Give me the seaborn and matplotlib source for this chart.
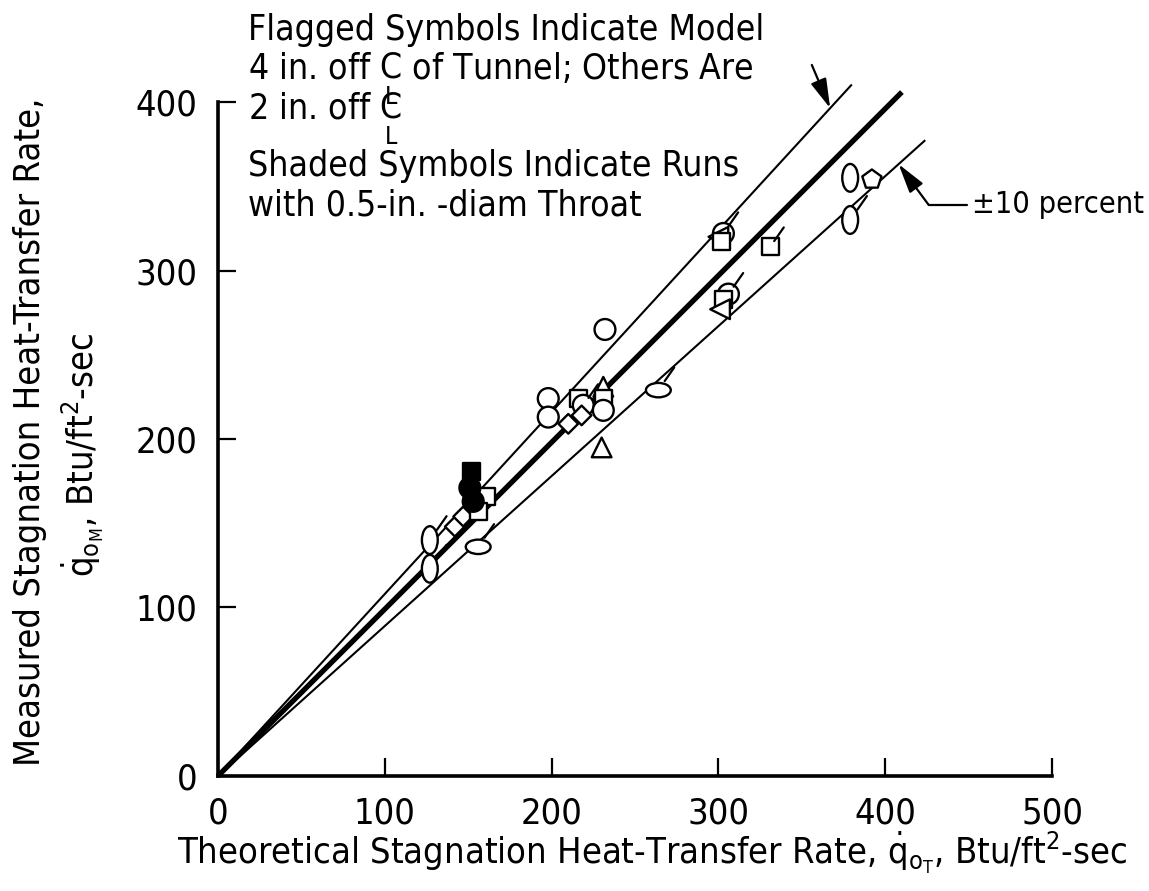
import numpy as np
import pandas as pd
import matplotlib
matplotlib.use("Agg")
import matplotlib.pyplot as plt
from matplotlib.path import Path
import seaborn as sns

# theoretical vs measured stagnation heat-transfer rate (Btu/ft^2-sec)
open_x = [127, 127, 142, 147, 161, 156, 156, 198, 198, 210, 216, 219, 218, 231, 231, 231, 230, 232, 264,
          303, 300, 302, 306, 303, 301, 331, 379, 392, 379]
open_y = [140, 123, 148, 154, 166, 157, 136, 224, 213, 209, 224, 220, 214, 231, 224, 217, 195, 265, 229,
          322, 320, 317, 286, 283, 277, 314, 355, 354, 330]
open_sym = ["vell", "vell", "diamond", "diamond", "square", "square", "hell", "circle", "circle", "diamond",
            "square", "circle", "diamond", "triangle", "square", "circle", "triangle", "circle", "hell",
            "circle", "ltri", "square", "circle", "square", "ltri", "square", "vell", "pent", "vell"]
open_flag = [1, 1, 0, 0, 0, 0, 1, 0, 0, 0, 0, 1, 0, 0, 0, 0, 0, 0, 1,
             1, 0, 0, 1, 0, 0, 1, 0, 0, 1]

# shaded symbols: 0.5-in.-diam throat
shaded_x = [152, 151, 153]
shaded_y = [181, 171, 163]
shaded_sym = ["square", "circle", "circle"]

# faired line and +-10 percent band
band_factor = [0.99, 1.08, 0.89]
band_end = [410, 380, 424]
band_lw = [3.8, 1.5, 1.5]

x_ticks = [0, 100, 200, 300, 400, 500]
y_ticks = [0, 100, 200, 300, 400]


def ellipse(sx, sy):
    c = Path.unit_circle()
    return Path(c.vertices * [sx, sy], c.codes)


markers = {"circle": "o", "square": "s", "triangle": "^", "ltri": "<", "diamond": "D",
           "pent": "p", "vell": ellipse(0.57, 1.0), "hell": ellipse(1.0, 0.58)}
sizes = {"circle": 225, "square": 150, "triangle": 200, "ltri": 200, "diamond": 100,
         "pent": 210, "vell": 400, "hell": 320}

sns.set_style("ticks")
plt.rcParams["font.family"] = ["DejaVu Sans"]
plt.rcParams["font.stretch"] = "condensed"
plt.rcParams["mathtext.fontset"] = "dejavusans"
for k in ["text.color", "axes.labelcolor", "xtick.color", "ytick.color"]:
    plt.rcParams[k] = "black"
FS = 26
NS = 25.5

fig = plt.figure(figsize=(11.49, 8.91), dpi=100)
ax = fig.add_axes([0.1897, 0.1291, 0.7259, 0.7564])

# lines
for f, xe, lw in zip(band_factor, band_end, band_lw):
    ax.plot([0, xe], [0, f * xe], color="black", lw=lw, clip_on=False, solid_capstyle="butt", zorder=2)

df_open = pd.DataFrame({"x": open_x, "y": open_y, "symbol": open_sym, "flag": open_flag})
df_shaded = pd.DataFrame({"x": shaded_x, "y": shaded_y, "symbol": shaded_sym})

sns.scatterplot(data=df_open, x="x", y="y", style="symbol", markers=markers, size="symbol", sizes=sizes,
                color="black", facecolor="white", edgecolor="black", linewidth=1.7, legend=False,
                ax=ax, zorder=3, clip_on=False)
sns.scatterplot(data=df_shaded, x="x", y="y", style="symbol", markers=markers, size="symbol", sizes=sizes,
                color="black", facecolor="black", edgecolor="black", linewidth=1.7, legend=False,
                ax=ax, zorder=4)

# flags on symbols for model 4 in. off centerline
ang = np.deg2rad(55)
for _, r in df_open[df_open.flag == 1].iterrows():
    rad = np.sqrt(sizes[r.symbol]) / 2
    L = rad + 11
    ax.annotate("", xy=(r.x, r.y), xytext=(L * np.cos(ang), L * np.sin(ang)), textcoords="offset points",
                arrowprops=dict(arrowstyle="-", lw=1.6, color="black", shrinkA=0, shrinkB=rad - 1),
                zorder=3)

# leaders to the band
ax.annotate("", xy=(367, band_factor[1] * 367), xytext=(356, 422), annotation_clip=False,
            arrowprops=dict(arrowstyle="-|>,head_length=0.9,head_width=0.25", lw=1.6, color="black",
                            shrinkA=0, shrinkB=0, mutation_scale=20))
ax.annotate("", xy=(408, band_factor[2] * 408), xytext=(426, 339), annotation_clip=False,
            arrowprops=dict(arrowstyle="-|>,head_length=0.9,head_width=0.25", lw=1.6, color="black",
                            shrinkA=0, shrinkB=0, mutation_scale=20))
ax.plot([426, 449], [339, 339], color="black", lw=1.6, clip_on=False)
ax.text(452, 339, "\u00b110 percent", fontsize=22, va="center", ha="left")

ax.set_xlim(0, 500)
ax.set_ylim(0, 400)
ax.set_xticks(x_ticks)
ax.set_yticks(y_ticks)
ax.tick_params(direction="in", length=13, width=1.6, labelsize=FS, pad=15, colors="black")
ax.tick_params(axis="x", pad=15)
sns.despine(ax=ax)
for s in ["left", "bottom"]:
    ax.spines[s].set_linewidth(2.6)
    ax.spines[s].set_color("black")

ax.set_ylabel("")
ax.set_xlabel(r"Theoretical Stagnation Heat-Transfer Rate, $\dot{\mathrm{q}}_{\mathrm{o}_\mathrm{T}}$, Btu/ft$^2$-sec",
              fontsize=FS)
ax.xaxis.set_label_coords(0.52, -0.08)
fig.text(0.026, 0.515, "Measured Stagnation Heat-Transfer Rate,", rotation=90, fontsize=FS,
         ha="center", va="center")
fig.text(0.072, 0.49, r"$\dot{\mathrm{q}}_{\mathrm{o}_\mathrm{M}}$, Btu/ft$^2$-sec", rotation=90, fontsize=FS,
         ha="center", va="center")

# notes, with the centerline symbol (C over L)
nx = 248 / 1149
CL = r"$\underset{\mathrm{L}}{\mathrm{C}}$"
fig.text(nx, 1 - 40 / 891, "Flagged Symbols Indicate Model", fontsize=NS, va="baseline")
fig.text(nx, 1 - 79 / 891, "4 in. off " + CL + " of Tunnel; Others Are", fontsize=NS, va="baseline")
fig.text(nx, 1 - 119 / 891, "2 in. off " + CL, fontsize=NS, va="baseline")
fig.text(nx, 1 - 176 / 891, "Shaded Symbols Indicate Runs", fontsize=NS, va="baseline")
fig.text(nx, 1 - 216 / 891, "with 0.5-in. -diam Throat", fontsize=NS, va="baseline")

fig.savefig("out.png", dpi=100)
